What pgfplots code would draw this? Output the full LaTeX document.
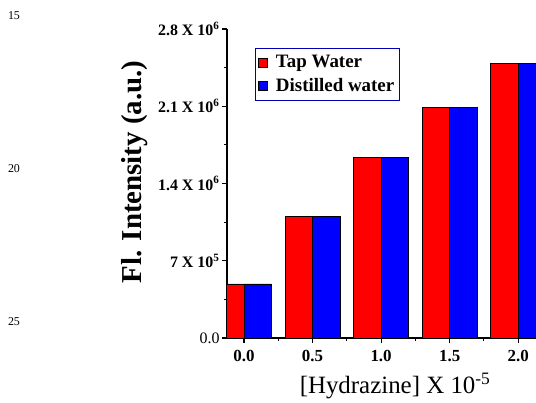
\documentclass[border=0pt]{standalone}
\usepackage{fontspec}
\setmainfont{Liberation Serif}
\usepackage{pgfplots}
\pgfplotsset{compat=1.18}
\pgfplotsset{sqlegend/.style={legend image code/.code={\draw[##1, line width=0.6pt] (5bp,-4.5bp) rectangle (14bp,4.5bp);}}}
\begin{document}
\begin{tikzpicture}[x=1bp,y=1bp]
\path[use as bounding box] (0,0) rectangle (536,402);
\node[font=\fontsize{12}{12}\selectfont] at (14,386) {15};
\node[font=\fontsize{12}{12}\selectfont] at (14,233) {20};
\node[font=\fontsize{12}{12}\selectfont] at (14,80) {25};
\begin{axis}[
  at={(227bp,64bp)}, anchor=south west,
  scale only axis, width=309bp, height=309bp,
  xmin=-0.124, xmax=2.13, ymin=0, ymax=2800000,
  axis x line*=bottom, axis y line*=left,
  axis line style={line width=1.4pt, black},
  tick align=outside,
  major tick length=5bp, minor tick length=3bp,
  every tick/.style={black, line width=1.1pt},
  xtick={0,0.5,1,1.5,2},
  xticklabels={0.0,0.5,1.0,1.5,2.0},
  minor xtick={0.25,0.75,1.25,1.75},
  ytick={0,700000,1400000,2100000,2800000},
  yticklabels={{\mdseries 0.0},7 X 10\textsuperscript{5},1.4 X 10\textsuperscript{6},2.1 X 10\textsuperscript{6},2.8 X 10\textsuperscript{6}},
  minor ytick={350000,1050000,1750000,2450000},
  scaled ticks=false,
  yticklabel style={font=\bfseries\fontsize{16}{16}\selectfont, xshift=1bp},
  xticklabel style={font=\bfseries\fontsize{17}{17}\selectfont, yshift=-4bp},
  xlabel={[Hydrazine] X 10\textsuperscript{-5}},
  xlabel style={at={(axis description cs:0.544,-0.155)}, anchor=center, font=\fontsize{25}{25}\selectfont},
  ylabel={Fl. Intensity (a.u.)},
  ylabel style={at={(axis description cs:-0.298,0.537)}, anchor=center, font=\bfseries\fontsize{29}{29}\selectfont},
  legend style={at={(axis description cs:0.0906,0.938)}, anchor=north west,
    draw=blue!70!black, line width=0.8pt, font=\bfseries\fontsize{19}{19}\selectfont,
    inner xsep=3bp, inner ysep=5bp, row sep=5bp,
    /tikz/every odd column/.style={column sep=6bp}},
  legend cell align=left,
]
\addplot[ybar, sqlegend, bar width=0.2, bar shift=-0.1, fill=red, draw=black, line width=0.6pt]
  coordinates {(0,490000) (0.5,1100000) (1,1640000) (1.5,2090000) (2,2490000)};
\addlegendentry{Tap Water}
\addplot[ybar, sqlegend, bar width=0.2, bar shift=0.1, fill=blue, draw=black, line width=0.6pt]
  coordinates {(0,490000) (0.5,1100000) (1,1640000) (1.5,2090000) (2,2490000)};
\addlegendentry{Distilled water}
\end{axis}
\end{tikzpicture}
\end{document}
